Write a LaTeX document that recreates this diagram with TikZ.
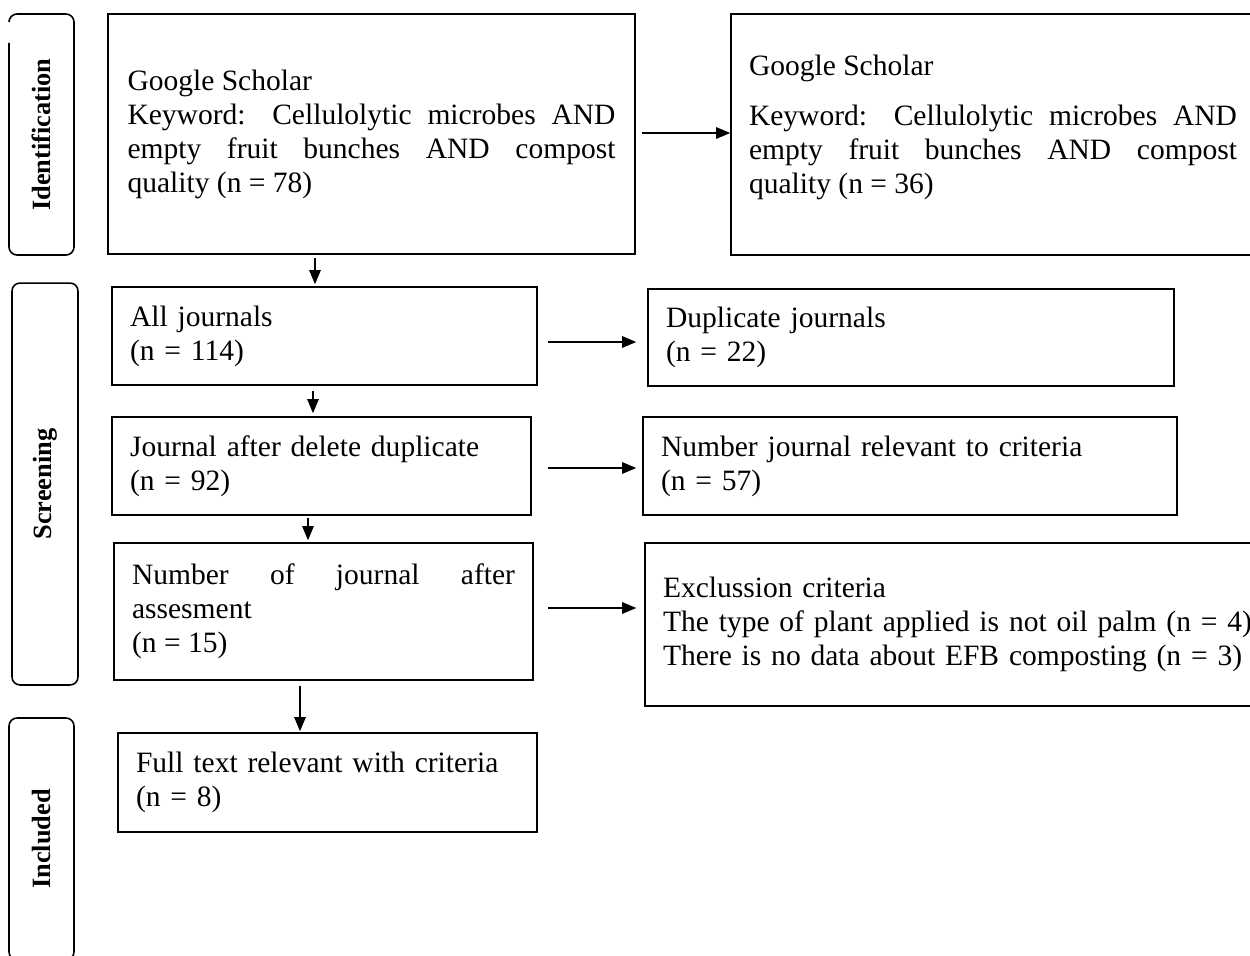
\documentclass[tikz,border=0pt]{standalone}
\usepackage{fontspec}
\setmainfont{Liberation Serif}
\usetikzlibrary{arrows.meta,calc}
\hyphenpenalty=10000
\tolerance=10000

\begin{document}
\begin{tikzpicture}[x=0.02cm,y=-0.02cm,
	box/.style={draw,line width=0.9pt,inner xsep=0.36cm,inner ysep=0pt,align=left,font=\fontsize{16.8}{19.35}\selectfont},
	jbox/.style={box,align=justify},
	stage/.style={draw,line width=0.9pt,rounded corners=0.16cm,rotate=90,inner sep=0pt,font=\fontsize{15}{18}\selectfont\bfseries},
	arr/.style={-{Triangle[length=8pt,width=6.5pt]},line width=0.8pt}]
	\useasboundingbox (0,0) rectangle (1250,956);
	
	% stages on the left
	\node[stage,draw=none,minimum width=4.82cm,minimum height=1.3cm] (idf) at (41.5,134.5) {Identification};
	\node[stage,minimum width=8.04cm,minimum height=1.32cm] (scr) at (45,484) {Screening};
	\node[stage,minimum width=4.84cm,minimum height=1.3cm] (inc) at (41.5,839) {Included};
	\draw[line width=0.9pt,rounded corners=0.16cm] ($(idf)+(-32.5,-91.5)$) -- ($(idf)+(-32.5,120.5)$) -- ($(idf)+(32.5,120.5)$) -- ($(idf)+(32.5,-120.5)$) -- ($(idf)+(-32.5,-120.5)$) -- ($(idf)+(-32.5,-112.5)$);
	
	% boxes
	\node[jbox,text width=9.76cm,minimum width=10.54cm,minimum height=4.8cm] (gs1) at (371.5,134) {Google Scholar\\Keyword: Cellulolytic microbes AND\linebreak empty fruit bunches AND compost\linebreak quality (n = 78)};
	\node[jbox,text width=9.76cm,minimum width=10.48cm,minimum height=4.82cm] (gs2) at (993,134.5) {Google Scholar\\[0.32cm]Keyword: Cellulolytic microbes AND\linebreak empty fruit bunches AND compost\linebreak quality (n = 36)\\[-0.28cm]\mbox{}};
	\node[box,text width=7.78cm,minimum height=1.96cm] (aj) at (324.5,336) {All journals\\(n = 114)};
	\node[box,text width=9.8cm,minimum height=1.94cm] (dup) at (911,337.5) {Duplicate journals\\(n = 22)};
	\node[box,text width=7.66cm,minimum height=1.96cm] (jad) at (321.5,466) {Journal after delete duplicate\\(n = 92)};
	\node[box,text width=9.96cm,minimum height=1.96cm] (njr) at (910,466) {Number journal relevant to criteria\\(n = 57)};
	\node[jbox,text width=7.66cm,minimum height=2.74cm] (nja) at (323.5,611.5) {Number of journal after\linebreak assesment\\(n = 15)};
	\node[box,text width=11.78cm,minimum height=3.26cm] (exc) at (957.5,624.5) {Exclussion criteria\\The type of plant applied is not oil palm (n = 4)\\There is no data about EFB composting (n = 3)};
	\node[box,text width=7.66cm,minimum height=1.98cm] (ft) at (327.5,782.5) {Full text relevant with criteria\\(n = 8)};
	
	% arrow positions
	\coordinate (d1) at (315,0);
	\coordinate (d2) at (313,0);
	\coordinate (d3) at (308,0);
	\coordinate (d4) at (300,0);
	\coordinate (r0) at (0,133);
	\coordinate (r1) at (0,342);
	\coordinate (r2) at (0,468);
	\coordinate (r3) at (0,608);
	
	\draw[arr,shorten <=0.12cm] (gs1.east |- r0) -- (gs2.west |- r0);
	\draw[arr,shorten <=0.06cm,shorten >=0.04cm] (gs1.south -| d1) -- (aj.north -| d1);
	\draw[arr,shorten <=0.2cm,shorten >=0.22cm] (aj.east |- r1) -- (dup.west |- r1);
	\draw[arr,shorten <=0.1cm,shorten >=0.06cm] (aj.south -| d2) -- (jad.north -| d2);
	\draw[arr,shorten <=0.32cm,shorten >=0.12cm] (jad.east |- r2) -- (njr.west |- r2);
	\draw[arr,shorten <=0.04cm,shorten >=0.04cm] (jad.south -| d3) -- (nja.north -| d3);
	\draw[arr,shorten <=0.28cm,shorten >=0.16cm] (nja.east |- r3) -- (exc.west |- r3);
	\draw[arr,shorten <=0.1cm,shorten >=0.02cm] (nja.south -| d4) -- (ft.north -| d4);
\end{tikzpicture}
\end{document}
